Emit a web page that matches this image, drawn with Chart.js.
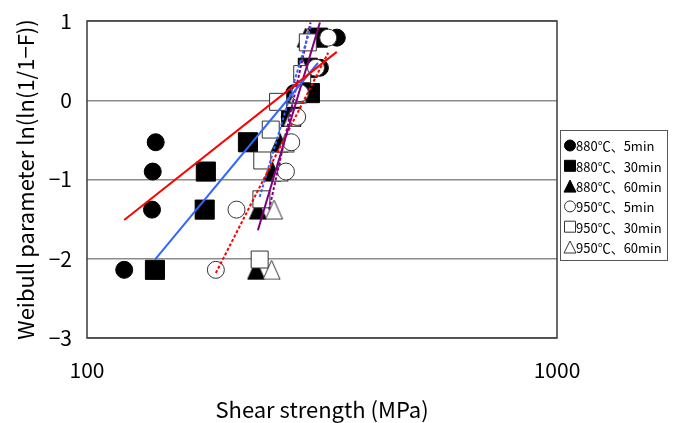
<!DOCTYPE html>
<html>
<head>
<meta charset="utf-8">
<script src="https://cdn.jsdelivr.net/npm/chart.js@4.4.1/dist/chart.umd.min.js"></script>
<style>
  html, body { margin: 0; padding: 0; background: #fff; }
</style>
</head>
<body>
<canvas id="weibullChart" width="676" height="423"></canvas>
<script>
// Livelli di probabilita' (asse y)
const rankLevels8 = [-2.14, -1.38, -0.90, -0.53, -0.21, 0.09, 0.41, 0.79];
const rankLevels7 = [-2.01, -1.25, -0.76, -0.37, -0.02, 0.33, 0.73];

// Resistenza a taglio (MPa) per ogni serie
const strength880_5 = [120, 137.5, 138, 140, 270, 276, 313, 340];
const strength880_30 = [139.5, 178, 179, 220, 272, 298, 295, 310];
const strength880_60 = [229, 231, 248, 257, 270, 278, 287, 292];
const strength950_5 = [188, 208, 265, 272, 280, 284, 307, 326];
const strength950_30 = [233, 235, 236, 246, 255, 287, 295];
const strength950_60 = [247, 250, 257, 265, 273, 281, 287, 295];

const seriesLabels = ['880℃、5min', '880℃、30min', '880℃、60min', '950℃、5min', '950℃、30min', '950℃、60min'];

// Linee di tendenza: estremi [MPa, y]
const trend880_5 = [[120, -1.51], [340, 0.61]];
const trend880_30 = [[139.5, -2.01], [310, 0.47]];
const trend880_60 = [[231, -1.64], [313, 0.98]];
const trend950_5 = [[188, -2.18], [326, 0.60]];
const trend950_30 = [[233, -1.22], [300, 0.95]];
const trend950_60 = [[244, -1.38], [299, 0.98]];

const xTicks = [100, 1000];
const yTicks = [-3, -2, -1, 0, 1];

const FONT = "'Noto Sans CJK JP', 'DejaVu Sans', sans-serif";

// Crea un marker triangolare (piu' alto che largo, come in Excel)
function makeTriangle(w, h, fill, stroke) {
    const c = document.createElement('canvas');
    c.width = w + 2;
    c.height = h + 2;
    const g = c.getContext('2d');
    g.beginPath();
    g.moveTo(c.width / 2, 1);
    g.lineTo(w + 1, h + 1);
    g.lineTo(1, h + 1);
    g.closePath();
    g.fillStyle = fill;
    g.fill();
    if (stroke) {
        g.strokeStyle = stroke;
        g.lineWidth = 1;
        g.stroke();
    }
    return c;
}

const triFilled = makeTriangle(17, 19, '#000', '#000');
const triOpen = makeTriangle(17, 19, '#fff', '#333');

const toPoints = (xs, ys) => xs.map((x, i) => ({ x: x, y: ys[i] }));
const toLine = pairs => pairs.map(p => ({ x: p[0], y: p[1] }));

function markerSet(label, xs, ys, style, radius, filled, order) {
    return {
        type: 'scatter',
        label: label,
        data: toPoints(xs, ys),
        pointStyle: style,
        pointRadius: radius,
        pointHoverRadius: radius,
        backgroundColor: filled ? '#000' : '#fff',
        borderColor: filled ? '#000' : '#333',
        borderWidth: 1,
        showLine: false,
        order: order
    };
}

function trendSet(pairs, color, dashed) {
    return {
        type: 'line',
        label: '',
        isTrend: true,
        data: toLine(pairs),
        borderColor: color,
        borderWidth: 2,
        borderDash: dashed ? [3, 2] : [],
        pointRadius: 0,
        fill: false,
        order: 0
    };
}

// Bordo dell'area del grafico
const plotBorder = {
    id: 'plotBorder',
    beforeDatasetsDraw(chart) {
        const { ctx, chartArea: a } = chart;
        ctx.save();
        ctx.strokeStyle = '#3a3a3a';
        ctx.lineWidth = 1.5;
        ctx.strokeRect(a.left, a.top, a.right - a.left, a.bottom - a.top);
        ctx.restore();
    }
};

// Legenda disegnata a mano a destra
const sideLegend = {
    id: 'sideLegend',
    afterDraw(chart) {
        const ctx = chart.ctx;
        const boxX = 560.5, boxY = 130.5, boxW = 107, boxH = 130;
        ctx.save();
        ctx.fillStyle = '#fff';
        ctx.fillRect(boxX, boxY, boxW, boxH);
        ctx.strokeStyle = '#555';
        ctx.lineWidth = 1;
        ctx.strokeRect(boxX, boxY, boxW, boxH);
        ctx.font = '13px ' + FONT;
        ctx.textBaseline = 'middle';
        const markers = chart.data.datasets.filter(d => !d.isTrend);
        markers.forEach((ds, i) => {
            const cy = 145.5 + i * 20.3;
            const cx = 570;
            const filled = ds.backgroundColor === '#000';
            ctx.fillStyle = filled ? '#000' : '#fff';
            ctx.strokeStyle = filled ? '#000' : '#333';
            ctx.lineWidth = 1;
            ctx.beginPath();
            if (ds.pointStyle === 'circle') {
                ctx.arc(cx, cy, 5.5, 0, Math.PI * 2);
            } else if (ds.pointStyle === 'rect') {
                ctx.rect(cx - 5.5, cy - 5.5, 11, 11);
            } else {
                ctx.moveTo(cx, cy - 6);
                ctx.lineTo(cx + 6, cy + 6);
                ctx.lineTo(cx - 6, cy + 6);
                ctx.closePath();
            }
            ctx.fill();
            ctx.stroke();
            ctx.fillStyle = '#000';
            ctx.fillText(ds.label, 576, cy + 1);
        });
        ctx.restore();
    }
};

const ctx = document.getElementById('weibullChart').getContext('2d');
new Chart(ctx, {
    data: {
        datasets: [
            markerSet(seriesLabels[0], strength880_5, rankLevels8, 'circle', 8.5, true, 2),
            markerSet(seriesLabels[1], strength880_30, rankLevels8, 'rect', 13.5, true, 2),
            markerSet(seriesLabels[2], strength880_60, rankLevels8, triFilled, 9, true, 2),
            markerSet(seriesLabels[3], strength950_5, rankLevels8, 'circle', 8.5, false, 1),
            markerSet(seriesLabels[4], strength950_30, rankLevels7, 'rect', 12, false, 1),
            markerSet(seriesLabels[5], strength950_60, rankLevels8, triOpen, 9, false, 1),
            trendSet(trend880_5, '#ff0000', false),
            trendSet(trend880_30, '#3366ff', false),
            trendSet(trend880_60, '#800080', false),
            trendSet(trend950_5, '#ff0000', true),
            trendSet(trend950_30, '#3366ff', true),
            trendSet(trend950_60, '#800080', true)
        ]
    },
    options: {
        responsive: false,
        animation: false,
        devicePixelRatio: 1,
        layout: { autoPadding: false, padding: { left: 0, top: 21, right: 119, bottom: 0 } },
        plugins: {
            legend: { display: false },
            tooltip: { enabled: false }
        },
        scales: {
            x: {
                type: 'logarithmic',
                min: 100,
                max: 1000,
                afterBuildTicks: s => { s.ticks = xTicks.map(v => ({ value: v })); },
                afterFit: s => { s.height = 85; s.paddingLeft = 0; s.paddingRight = 0; },
                grid: { display: false },
                border: { display: false },
                ticks: {
                    color: '#000',
                    font: { family: FONT, size: 21 },
                    padding: 11,
                    maxRotation: 0,
                    autoSkip: false,
                    callback: v => String(v)
                },
                title: {
                    display: true,
                    text: 'Shear strength (MPa)',
                    color: '#000',
                    font: { family: FONT, size: 22 },
                    padding: { top: 0, bottom: 0 }
                }
            },
            y: {
                min: -3,
                max: 1,
                afterBuildTicks: s => { s.ticks = yTicks.map(v => ({ value: v })); },
                afterFit: s => { s.width = 87; s.paddingTop = 0; s.paddingBottom = 0; },
                grid: { color: '#8c8c8c', lineWidth: 1.5, drawTicks: false },
                border: { display: false },
                ticks: {
                    color: '#000',
                    font: { family: FONT, size: 21 },
                    padding: 15,
                    callback: v => String(v).replace('-', '−')
                },
                title: {
                    display: true,
                    text: 'Weibull parameter ln(ln(1/1−F))',
                    color: '#000',
                    font: { family: FONT, size: 22 },
                    padding: { top: 12, bottom: 0 }
                }
            }
        }
    },
    plugins: [plotBorder, sideLegend]
});
</script>
</body>
</html>
